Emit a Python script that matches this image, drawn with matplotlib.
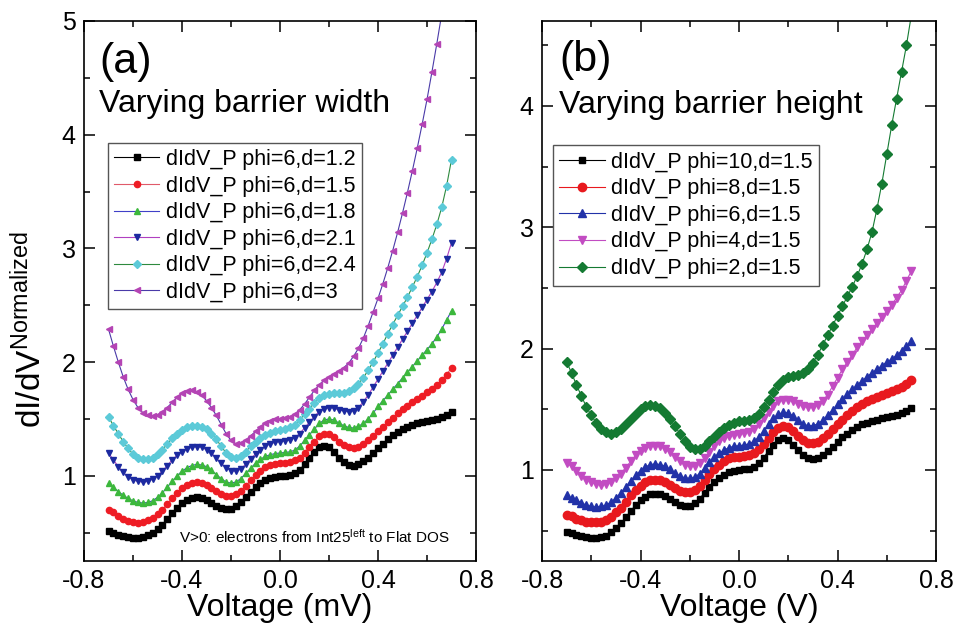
import numpy as np
import matplotlib
matplotlib.use("Agg")
import matplotlib.pyplot as plt
from matplotlib.ticker import MultipleLocator, FormatStrFormatter

plt.rcParams['font.family'] = ['Liberation Sans', 'DejaVu Sans']
plt.rcParams['mathtext.fontset'] = 'custom'
plt.rcParams['mathtext.rm'] = 'Liberation Sans'
plt.rcParams['mathtext.default'] = 'regular'
plt.rcParams['axes.unicode_minus'] = False

# bias voltage grid (same for every curve)
voltage = [-0.70, -0.68, -0.66, -0.64, -0.62, -0.60, -0.58, -0.56, -0.54, -0.52,
           -0.50, -0.48, -0.46, -0.44, -0.42, -0.40, -0.38, -0.36, -0.34, -0.32,
           -0.30, -0.28, -0.26, -0.24, -0.22, -0.20, -0.18, -0.16, -0.14, -0.12,
           -0.10, -0.08, -0.06, -0.04, -0.02, 0.00, 0.02, 0.04, 0.06, 0.08,
           0.10, 0.12, 0.14, 0.16, 0.18, 0.20, 0.22, 0.24, 0.26, 0.28,
           0.30, 0.32, 0.34, 0.36, 0.38, 0.40, 0.42, 0.44, 0.46, 0.48,
           0.50, 0.52, 0.54, 0.56, 0.58, 0.60, 0.62, 0.64, 0.66, 0.68, 0.70]

# (a) phi = 6, barrier width d varied
d12 = [0.51, 0.50, 0.48, 0.47, 0.46, 0.455, 0.455, 0.46, 0.48, 0.50,
       0.53, 0.57, 0.62, 0.67, 0.72, 0.76, 0.79, 0.805, 0.81, 0.80,
       0.785, 0.76, 0.735, 0.715, 0.705, 0.71, 0.73, 0.77, 0.81, 0.86,
       0.90, 0.935, 0.96, 0.98, 0.99, 1.00, 1.00, 1.01, 1.02, 1.05,
       1.10, 1.16, 1.21, 1.25, 1.265, 1.25, 1.21, 1.16, 1.12, 1.095,
       1.09, 1.10, 1.13, 1.16, 1.20, 1.24, 1.28, 1.32, 1.355, 1.385,
       1.41, 1.43, 1.45, 1.46, 1.47, 1.48, 1.49, 1.50, 1.515, 1.535, 1.56]
d15 = [0.70, 0.68, 0.65, 0.62, 0.60, 0.59, 0.585, 0.59, 0.61, 0.63,
       0.66, 0.70, 0.75, 0.80, 0.85, 0.89, 0.92, 0.94, 0.945, 0.94,
       0.92, 0.895, 0.865, 0.84, 0.825, 0.82, 0.835, 0.87, 0.91, 0.96,
       1.005, 1.045, 1.075, 1.095, 1.105, 1.11, 1.115, 1.12, 1.135, 1.16,
       1.20, 1.25, 1.30, 1.35, 1.37, 1.365, 1.34, 1.30, 1.27, 1.25,
       1.245, 1.25, 1.275, 1.31, 1.35, 1.39, 1.43, 1.47, 1.51, 1.55,
       1.585, 1.615, 1.645, 1.675, 1.705, 1.735, 1.765, 1.80, 1.84, 1.89, 1.95]
d18 = [0.935, 0.90, 0.86, 0.83, 0.80, 0.78, 0.765, 0.76, 0.765, 0.78,
       0.81, 0.85, 0.90, 0.95, 1.00, 1.04, 1.07, 1.09, 1.10, 1.095,
       1.08, 1.05, 1.01, 0.975, 0.945, 0.935, 0.945, 0.975, 1.02, 1.065,
       1.11, 1.145, 1.17, 1.185, 1.195, 1.20, 1.205, 1.21, 1.225, 1.26,
       1.31, 1.36, 1.41, 1.46, 1.49, 1.50, 1.49, 1.465, 1.44, 1.425,
       1.42, 1.435, 1.46, 1.50, 1.55, 1.61, 1.66, 1.71, 1.76, 1.81,
       1.86, 1.91, 1.96, 2.01, 2.06, 2.11, 2.16, 2.22, 2.29, 2.37, 2.45]
d21 = [1.20, 1.14, 1.08, 1.03, 0.99, 0.965, 0.95, 0.945, 0.95, 0.97,
       1.00, 1.04, 1.09, 1.14, 1.18, 1.21, 1.235, 1.25, 1.255, 1.25,
       1.23, 1.20, 1.155, 1.11, 1.07, 1.045, 1.04, 1.06, 1.10, 1.15,
       1.19, 1.23, 1.26, 1.28, 1.295, 1.30, 1.305, 1.315, 1.335, 1.37,
       1.42, 1.47, 1.52, 1.565, 1.59, 1.60, 1.595, 1.58, 1.57, 1.565,
       1.57, 1.60, 1.65, 1.71, 1.78, 1.85, 1.92, 1.99, 2.06, 2.13,
       2.20, 2.27, 2.34, 2.41, 2.48, 2.55, 2.62, 2.70, 2.79, 2.91, 3.05]
d24 = [1.52, 1.44, 1.37, 1.30, 1.24, 1.19, 1.16, 1.145, 1.145, 1.16,
       1.19, 1.23, 1.28, 1.33, 1.37, 1.40, 1.425, 1.44, 1.44, 1.43,
       1.41, 1.37, 1.32, 1.26, 1.20, 1.165, 1.155, 1.17, 1.21, 1.26,
       1.30, 1.335, 1.36, 1.38, 1.39, 1.40, 1.41, 1.425, 1.45, 1.49,
       1.54, 1.59, 1.64, 1.68, 1.71, 1.72, 1.725, 1.725, 1.73, 1.745,
       1.77, 1.81, 1.86, 1.93, 2.00, 2.08, 2.16, 2.25, 2.33, 2.41,
       2.49, 2.57, 2.66, 2.75, 2.85, 2.96, 3.08, 3.21, 3.36, 3.55, 3.78]
d30 = [2.29, 2.14, 2.00, 1.87, 1.76, 1.67, 1.60, 1.555, 1.53, 1.525,
       1.535, 1.56, 1.60, 1.645, 1.69, 1.725, 1.745, 1.75, 1.74, 1.71,
       1.66, 1.60, 1.53, 1.45, 1.37, 1.31, 1.28, 1.285, 1.31, 1.35,
       1.39, 1.43, 1.46, 1.48, 1.495, 1.50, 1.505, 1.515, 1.54, 1.58,
       1.63, 1.69, 1.75, 1.80, 1.84, 1.87, 1.895, 1.92, 1.95, 1.99,
       2.05, 2.12, 2.21, 2.32, 2.44, 2.56, 2.69, 2.83, 2.98, 3.14,
       3.31, 3.49, 3.68, 3.88, 4.09, 4.31, 4.55, 4.80, 5.06, 5.34, 5.63]

# (b) d = 1.5, barrier height phi varied
phi10 = [0.49, 0.48, 0.465, 0.455, 0.445, 0.44, 0.44, 0.445, 0.46, 0.485,
         0.52, 0.56, 0.61, 0.66, 0.71, 0.75, 0.78, 0.80, 0.805, 0.80,
         0.785, 0.76, 0.735, 0.715, 0.705, 0.705, 0.725, 0.765, 0.81, 0.86,
         0.90, 0.935, 0.96, 0.98, 0.99, 1.00, 1.005, 1.01, 1.025, 1.055,
         1.10, 1.16, 1.21, 1.25, 1.265, 1.25, 1.21, 1.165, 1.12, 1.095,
         1.09, 1.10, 1.12, 1.155, 1.19, 1.23, 1.27, 1.30, 1.33, 1.355,
         1.375, 1.39, 1.405, 1.415, 1.425, 1.435, 1.445, 1.455, 1.47, 1.49, 1.51]
phi8 = [0.63, 0.62, 0.60, 0.585, 0.575, 0.57, 0.57, 0.575, 0.59, 0.615,
        0.65, 0.69, 0.74, 0.79, 0.835, 0.87, 0.90, 0.915, 0.92, 0.915,
        0.90, 0.875, 0.85, 0.83, 0.82, 0.82, 0.835, 0.87, 0.915, 0.965,
        1.01, 1.045, 1.075, 1.095, 1.105, 1.11, 1.115, 1.125, 1.14, 1.17,
        1.215, 1.265, 1.315, 1.35, 1.365, 1.355, 1.32, 1.28, 1.245, 1.225,
        1.22, 1.23, 1.26, 1.295, 1.335, 1.375, 1.415, 1.45, 1.485, 1.515,
        1.54, 1.565, 1.585, 1.605, 1.62, 1.635, 1.65, 1.665, 1.685, 1.71, 1.74]
phi6 = [0.79, 0.77, 0.75, 0.73, 0.71, 0.70, 0.695, 0.70, 0.71, 0.735,
        0.77, 0.81, 0.86, 0.91, 0.955, 0.995, 1.025, 1.045, 1.05, 1.045,
        1.03, 1.005, 0.975, 0.95, 0.935, 0.93, 0.94, 0.97, 1.015, 1.065,
        1.105, 1.14, 1.165, 1.185, 1.195, 1.20, 1.205, 1.215, 1.235, 1.27,
        1.32, 1.375, 1.425, 1.46, 1.475, 1.47, 1.445, 1.41, 1.38, 1.365,
        1.365, 1.38, 1.41, 1.45, 1.495, 1.54, 1.585, 1.625, 1.665, 1.70,
        1.735, 1.77, 1.80, 1.83, 1.86, 1.89, 1.915, 1.945, 1.98, 2.02, 2.06]
phi4 = [1.06, 1.03, 0.99, 0.95, 0.92, 0.90, 0.885, 0.88, 0.885, 0.90,
        0.93, 0.97, 1.02, 1.07, 1.12, 1.155, 1.18, 1.195, 1.20, 1.195,
        1.175, 1.145, 1.11, 1.075, 1.045, 1.03, 1.035, 1.06, 1.10, 1.15,
        1.195, 1.235, 1.26, 1.28, 1.29, 1.30, 1.305, 1.315, 1.34, 1.38,
        1.43, 1.48, 1.53, 1.565, 1.58, 1.58, 1.565, 1.545, 1.525, 1.515,
        1.515, 1.535, 1.57, 1.62, 1.69, 1.76, 1.83, 1.89, 1.95, 2.01,
        2.06, 2.11, 2.16, 2.21, 2.26, 2.31, 2.36, 2.42, 2.48, 2.56, 2.64]
phi2 = [1.89, 1.80, 1.70, 1.61, 1.52, 1.45, 1.39, 1.34, 1.31, 1.30,
        1.31, 1.34, 1.38, 1.42, 1.465, 1.50, 1.525, 1.535, 1.53, 1.51,
        1.47, 1.42, 1.36, 1.30, 1.24, 1.19, 1.17, 1.175, 1.20, 1.235,
        1.275, 1.31, 1.345, 1.37, 1.39, 1.40, 1.405, 1.41, 1.43, 1.465,
        1.52, 1.58, 1.645, 1.70, 1.74, 1.765, 1.775, 1.785, 1.80, 1.835,
        1.885, 1.95, 2.03, 2.11, 2.19, 2.27, 2.35, 2.43, 2.51, 2.60,
        2.70, 2.82, 2.96, 3.15, 3.36, 3.60, 3.84, 4.06, 4.28, 4.50, 4.75]

labels_a = ['dIdV_P phi=6,d=1.2', 'dIdV_P phi=6,d=1.5', 'dIdV_P phi=6,d=1.8',
            'dIdV_P phi=6,d=2.1', 'dIdV_P phi=6,d=2.4', 'dIdV_P phi=6,d=3']
labels_b = ['dIdV_P phi=10,d=1.5', 'dIdV_P phi=8,d=1.5', 'dIdV_P phi=6,d=1.5',
            'dIdV_P phi=4,d=1.5', 'dIdV_P phi=2,d=1.5']

series_a = [d12, d15, d18, d21, d24, d30]
series_b = [phi10, phi8, phi6, phi4, phi2]

# Origin style: marker colour and line colour differ in panel (a)
mk_a = ['s', 'o', '^', 'v', 'D', '<']
mcol_a = ['#000000', '#ee1c24', '#3cb83c', '#1c2aa0', '#5ccad8', '#b444b4']
lcol_a = ['#000000', '#e05a6a', '#4040c8', '#b040c0', '#2e8a3e', '#4a3aa8']
ms_a = [4, 4.5, 4.8, 4.8, 4.2, 4.8]

mk_b = ['s', 'o', '^', 'v', 'D']
col_b = ['#000000', '#e8191e', '#2232a8', '#c24cc2', '#147a32']
ms_b = [5, 6, 6, 6, 5]

fig = plt.figure(figsize=(9.57, 6.31), dpi=100)
ax_a = fig.add_axes([84 / 957, 1 - 561 / 631, 392 / 957, 540 / 631])
ax_b = fig.add_axes([542 / 957, 1 - 561 / 631, 394 / 957, 540 / 631])

for y, m, mc, lc, ms, lab in zip(series_a, mk_a, mcol_a, lcol_a, ms_a, labels_a):
    ax_a.plot(voltage, y, color=lc, lw=0.8, marker=m, ms=ms, mfc=mc, mec=mc,
              label=lab)

for y, m, c, ms, lab in zip(series_b, mk_b, col_b, ms_b, labels_b):
    ax_b.plot(voltage, y, color=c, lw=0.8, marker=m, ms=ms, mfc=c, mec=c,
              label=lab)

for ax in (ax_a, ax_b):
    ax.set_xlim(-0.8, 0.8)
    ax.xaxis.set_major_locator(MultipleLocator(0.4))
    ax.xaxis.set_minor_locator(MultipleLocator(0.2))
    ax.yaxis.set_major_locator(MultipleLocator(1))
    ax.yaxis.set_minor_locator(MultipleLocator(0.5))
    ax.xaxis.set_major_formatter(FormatStrFormatter('%.1f'))
    ax.yaxis.set_major_formatter(FormatStrFormatter('%d'))
    ax.tick_params(which='both', direction='in', top=True, right=True,
                   width=1.1, labelsize=18, pad=6)
    ax.tick_params(which='major', length=8)
    ax.tick_params(which='minor', length=4.5)
    for sp in ax.spines.values():
        sp.set_linewidth(1.2)

ax_a.set_ylim(0.25, 5)
ax_b.set_ylim(0.25, 4.7)

ax_a.set_xlabel('Voltage (mV)', fontsize=23, labelpad=0)
ax_b.set_xlabel('Voltage (V)', fontsize=23, labelpad=0)
fig.text(30 / 957, 1 - 330 / 631, r'dI/dV$^{Normalized}$', rotation=90,
         ha='center', va='center', fontsize=24)

ax_a.text(0.038, 0.925, '(a)', transform=ax_a.transAxes, fontsize=31,
          ha='left', va='center')
ax_a.text(0.038, 0.846, 'Varying barrier width', transform=ax_a.transAxes,
          fontsize=23, ha='left', va='center')
ax_b.text(0.043, 0.927, '(b)', transform=ax_b.transAxes, fontsize=31,
          ha='left', va='center')
ax_b.text(0.043, 0.845, 'Varying barrier height', transform=ax_b.transAxes,
          fontsize=23, ha='left', va='center')
ax_a.text(0.242, 0.045, r'V>0: electrons from Int25$^{left}$ to Flat DOS',
          transform=ax_a.transAxes, fontsize=11, ha='left', va='center')

leg_kw = dict(loc='upper left', borderaxespad=0, fontsize=15.5, numpoints=1,
              handlelength=2.1, handletextpad=0.3, labelspacing=0.26,
              borderpad=0.3, fancybox=False, framealpha=1)
la = ax_a.legend(bbox_to_anchor=(0.06, 0.775), **leg_kw)
lb = ax_b.legend(bbox_to_anchor=(0.028, 0.77), **leg_kw)
for lg in (la, lb):
    lg.get_frame().set_edgecolor('#555555')
    lg.get_frame().set_linewidth(1.0)

fig.savefig('out.png', dpi=100)
